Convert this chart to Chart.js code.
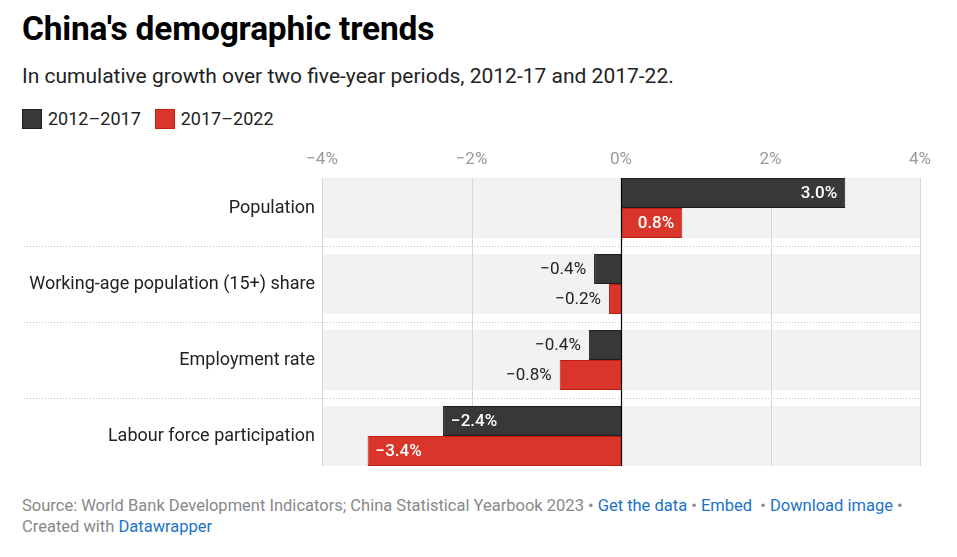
<!DOCTYPE html>
<html>
<head>
<meta charset="utf-8">
<script src="https://cdn.jsdelivr.net/npm/chart.js@4.4.1/dist/chart.umd.min.js"></script>
<style>
  body { margin: 0; background: #fff; font-family: Roboto, "Noto Sans", sans-serif; }
  #wrap { position: relative; width: 957px; height: 557px; overflow: hidden; }
  h1 { position: absolute; left: 22px; top: 9px; margin: 0; font-size: 33.5px; font-weight: bold; color: #000; letter-spacing: -0.2px; }
  .sub { position: absolute; left: 22px; top: 64px; font-size: 21px; color: #222; }
  #legend { position: absolute; left: 22px; top: 108px; display: flex; font-size: 18px; color: #222; }
  #legend .item { display: flex; align-items: center; margin-right: 14px; }
  #legend .sw { width: 18px; height: 18px; margin-right: 6px; border: 1px solid; }
  #c { position: absolute; left: 0; top: 140px; }
  .foot { position: absolute; left: 22px; top: 495px; font-size: 16.5px; color: #888; line-height: 21px; }
  .foot a { color: #1a73c7; text-decoration: none; }
</style>
</head>
<body>
<div id="wrap">
  <h1>China's demographic trends</h1>
  <div class="sub">In cumulative growth over two five-year periods, 2012-17 and 2017-22.</div>
  <div id="legend"></div>
  <canvas id="c" width="957" height="334"></canvas>
  <div class="foot">Source: World Bank Development Indicators; China Statistical Yearbook 2023 • <a>Get the data</a> • <a>Embed</a> &nbsp;• <a>Download image</a> •<br>Created with <a>Datawrapper</a></div>
</div>
<script>
const categories = ["Population", "Working-age population (15+) share", "Employment rate", "Labour force participation"];
const seriesNames = ["2012–2017", "2017–2022"];
const values2012 = [3.0, -0.36, -0.43, -2.38];
const values2017 = [0.82, -0.16, -0.82, -3.39];
const xTicks = [-4, -2, 0, 2, 4];

const colors = ["#383838", "#d9352a"];
const borders = ["#1e1e1e", "#c01d14"];

const fmt = v => (v < 0 ? "\u2212" : "") + Math.abs(v).toFixed(1) + "%";

// legend
const legend = document.getElementById("legend");
seriesNames.forEach((name, i) => {
    const item = document.createElement("div");
    item.className = "item";
    item.innerHTML = `<span class="sw" style="background:${colors[i]};border-color:${borders[i]}"></span>${name}`;
    legend.appendChild(item);
});

const bandHalf = 30;

const backdrop = {
    id: "backdrop",
    beforeDatasetsDraw(chart) {
        const {ctx, scales: {x, y}} = chart;
        const left = x.getPixelForValue(-4), right = x.getPixelForValue(4);
        const top = y.getPixelForValue(0) - bandHalf;
        const bottom = y.getPixelForValue(categories.length - 1) + bandHalf;
        ctx.save();
        // bands
        ctx.fillStyle = "#f2f2f2";
        categories.forEach((c, i) => {
            const cy = y.getPixelForValue(i);
            ctx.fillRect(left, cy - bandHalf, right - left, bandHalf * 2);
        });
        // dotted separators
        ctx.strokeStyle = "#bdbdbd";
        ctx.lineWidth = 1;
        ctx.setLineDash([1, 2]);
        for (let i = 0; i < categories.length - 1; i++) {
            const yy = Math.round((y.getPixelForValue(i) + y.getPixelForValue(i + 1)) / 2) + 0.5;
            ctx.beginPath();
            ctx.moveTo(24, yy);
            ctx.lineTo(right, yy);
            ctx.stroke();
        }
        ctx.setLineDash([]);
        // gridlines
        ctx.strokeStyle = "#d6d6d6";
        xTicks.forEach(t => {
            if (t === 0) return;
            const xx = Math.round(x.getPixelForValue(t)) + 0.5;
            ctx.beginPath();
            ctx.moveTo(xx, top);
            ctx.lineTo(xx, bottom);
            ctx.stroke();
        });
        ctx.restore();
    },
    afterDatasetsDraw(chart) {
        const {ctx, scales: {x, y}} = chart;
        const top = y.getPixelForValue(0) - bandHalf;
        const bottom = y.getPixelForValue(categories.length - 1) + bandHalf;
        ctx.save();
        // zero line
        const zx = Math.round(x.getPixelForValue(0)) + 0.5;
        ctx.strokeStyle = "#000";
        ctx.lineWidth = 1.2;
        ctx.beginPath();
        ctx.moveTo(zx, top);
        ctx.lineTo(zx, bottom);
        ctx.stroke();
        // value labels
        ctx.textBaseline = "middle";
        chart.data.datasets.forEach((ds, di) => {
            chart.getDatasetMeta(di).data.forEach((bar, i) => {
                const v = ds.data[i];
                const txt = fmt(v);
                ctx.font = "500 17px Roboto";
                const w = ctx.measureText(txt).width;
                const barW = Math.abs(bar.x - bar.base);
                const inside = barW > w + 20;
                if (inside) {
                    ctx.fillStyle = "#fff";
                    ctx.textAlign = v >= 0 ? "right" : "left";
                    ctx.fillText(txt, v >= 0 ? bar.x - 8 : bar.x + 8, bar.y + 1);
                } else {
                    ctx.font = "17px Roboto";
                    ctx.fillStyle = "#222";
                    ctx.textAlign = v >= 0 ? "left" : "right";
                    ctx.fillText(txt, v >= 0 ? bar.x + 8 : bar.x - 8, bar.y + 1);
                }
            });
        });
        ctx.restore();
    }
};

new Chart(document.getElementById("c"), {
    type: "bar",
    data: {
        labels: categories,
        datasets: [
            {label: seriesNames[0], data: values2012, backgroundColor: colors[0], borderColor: borders[0], borderWidth: 1},
            {label: seriesNames[1], data: values2017, backgroundColor: colors[1], borderColor: borders[1], borderWidth: 1}
        ]
    },
    options: {
        indexAxis: "y",
        responsive: false,
        animation: false,
        categoryPercentage: 60 / 76,
        barPercentage: 1,
        layout: {padding: {left: 0, right: 37, top: 0, bottom: 0}},
        plugins: {legend: {display: false}, tooltip: {enabled: false}},
        scales: {
            x: {
                position: "top",
                min: -4,
                max: 4,
                afterBuildTicks: s => { s.ticks = xTicks.map(v => ({value: v})); },
                afterFit: s => { s.height = 30; s.paddingLeft = 0; s.paddingRight = 0; },
                grid: {display: false, drawTicks: false},
                border: {display: false},
                ticks: {
                    padding: 0,
                    color: "#9a9a9a",
                    font: {family: "Roboto", size: 17},
                    callback: v => (v < 0 ? "\u2212" : "") + Math.abs(v) + "%"
                }
            },
            y: {
                afterFit: s => { s.width = 322; s.paddingTop = 0; s.paddingBottom = 0; },
                grid: {display: false, drawTicks: false},
                border: {display: false},
                ticks: {
                    padding: 7,
                    color: "#222",
                    font: {family: "Roboto", size: 18}
                }
            }
        }
    },
    plugins: [backdrop]
});
</script>
</body>
</html>
